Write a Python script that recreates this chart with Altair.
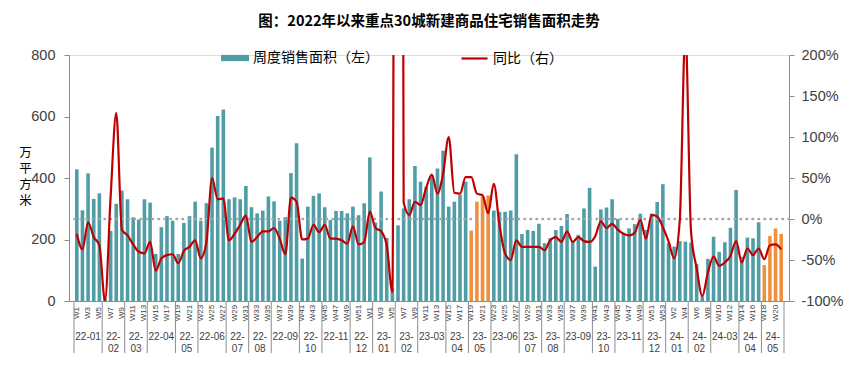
import altair as alt
import pandas as pd

# ---------------- data ----------------
area = [428, 295, 415, 332, 350, 8, 228, 316, 359, 331,
        272, 265, 331, 320, 153, 240, 276, 261, 153, 254,
        276, 323, 261, 318, 499, 602, 623, 331, 337, 331,
        374, 305, 285, 294, 340, 324, 261, 273, 416, 513,
        138, 307, 342, 350, 305, 263, 293, 293, 285, 307,
        279, 318, 467, 255, 356, 205, 42, 246, 301, 331,
        439, 388, 372, 408, 431, 489, 307, 323, 345, 388,
        229, 323, 340, 343, 294, 290, 290, 294, 477, 218,
        231, 228, 251, 188, 204, 231, 244, 283, 193, 215,
        301, 368, 112, 298, 304, 331, 267, 222, 236, 250,
        284, 231, 284, 322, 380, 188, 177, 195, 193, 190,
        120, 15, 137, 209, 160, 191, 238, 361, 144, 206,
        204, 256, 117, 211, 236, 218]

yoy = [-18, -37, -4, -22, -32, -100, 27, 129, -13, -20,
       -31, -40, -42, -28, -63, -48, -44, -43, -54, -39,
       -34, -26, -48, -28, 50, 24, 25, -26, -18, -7,
       4, -28, -22, -15, -15, -11, -24, -43, 26, 21,
       -25, -24, -7, -16, -7, -24, -24, -26, -30, -9,
       -31, -28, 9, -11, -15, -32, -89, 3000, 20, 5,
       21, 17, 38, 54, 31, 55, 100, 32, 31, 51,
       51, 31, 29, 7, 43, -7, -42, -50, -26, -34,
       -34, -34, -34, -38, -26, -22, -28, -15, -28, -22,
       -27, -28, -21, -3, -11, -6, -13, -18, -20, -17,
       -1, -24, 5, 3, -10, -27, -48, -2, 230, -15,
       -60, -94, -65, -46, -57, -53, -45, -27, -53, -36,
       -44, -36, -49, -32, -31, -37]

orange_weeks = [70, 71, 72, 73, 122, 123, 124, 125]

week_labels = ([f"W{k}" for k in range(1, 53)]
               + [f"W{k}" for k in range(1, 54)]
               + [f"W{k}" for k in range(1, 22)])

month_labels = ["22-01", "22-\n02", "22-\n03", "22-04", "22-\n05", "22-06",
                "22-\n07", "22-\n08", "22-09", "22-\n10", "22-11", "22-\n12",
                "23-\n01", "23-\n02", "23-03", "23-\n04", "23-\n05", "23-06",
                "23-\n07", "23-\n08", "23-09", "23-\n10", "23-11", "23-\n12",
                "24-\n01", "24-\n02", "24-03", "24-\n04", "24-\n05"]
month_weeks = [5, 4, 4, 5, 4, 5, 4, 4, 5, 4, 5, 4,
               4, 4, 5, 4, 4, 5, 4, 4, 5, 4, 5, 4,
               4, 4, 5, 4, 4]

BAR_NAME = "周度销售面积（左）"
LINE_NAME = "同比（右）"
TITLE = "图：2022年以来重点30城新建商品住宅销售面积走势"

TEAL = "#519DA6"
ORANGE = "#F0903E"
RED = "#C00000"
GRAY = "#A6A6A6"
AXIS_GRAY = "#8C8C8C"
TXT = "#404040"
LAT = "Liberation Sans"
CJK = "Noto Sans CJK SC"

N = len(area)
W, H = 720, 246

# ---------------- frames ----------------
df = pd.DataFrame({"x": [i + 0.5 for i in range(N)], "area": area,
                   "yoy": yoy, "week": week_labels})
df["orange"] = [i in orange_weeks for i in range(N)]
df_teal = df[~df["orange"]].assign(series=BAR_NAME)
df_orange = df[df["orange"]]
df_line = df.assign(series=LINE_NAME)
df_weeks = df[[i % 2 == 0 for i in range(N)]]

bounds = [0]
for c in month_weeks:
    bounds.append(bounds[-1] + c)
df_sep = pd.DataFrame({"b": bounds})
df_month = pd.DataFrame({
    "c": [(bounds[k] + bounds[k + 1]) / 2 for k in range(len(month_weeks))],
    "label": month_labels})

# ---------------- scales / encodings ----------------
x_scale = alt.Scale(domain=[0, N], nice=False, zero=False)
x_enc = alt.X("x:Q", scale=x_scale,
              axis=alt.Axis(title=None, labels=False, ticks=False, grid=False,
                            domainColor=AXIS_GRAY, domainWidth=1))
y_left_scale = alt.Scale(domain=[0, 800], nice=False)
y_right_scale = alt.Scale(domain=[-100, 200], nice=False)

left_axis = alt.Axis(values=[0, 200, 400, 600, 800], grid=False,
                     title=["万", "平", "方", "米"], titleAngle=0,
                     titleFont=CJK, titleFontSize=12.5, titleFontWeight="normal",
                     titleColor="#000000", titleX=-44, titleY=91,
                     titleAlign="center", titleBaseline="top",
                     titleLineHeight=16,
                     labelFont=LAT, labelFontSize=14.5, labelColor=TXT,
                     labelPadding=9, tickSize=5, tickColor=AXIS_GRAY,
                     domainColor=AXIS_GRAY)
right_axis = alt.Axis(orient="right", values=[-100, -50, 0, 50, 100, 150, 200],
                      labelExpr="datum.value + '%'", grid=False, title=None,
                      labelFont=LAT, labelFontSize=14.5, labelColor=TXT,
                      labelPadding=7, tickSize=5, tickColor=AXIS_GRAY,
                      domainColor=AXIS_GRAY)

bar_legend = alt.Legend(title=None, orient="none", legendX=152, legendY=-11,
                        symbolType="M-1,-0.22L1,-0.22L1,0.22L-1,0.22Z",
                        symbolSize=784, symbolStrokeWidth=0, padding=0,
                        labelFont=CJK, labelFontSize=14, labelColor="#000000",
                        labelOffset=4)
line_legend = alt.Legend(title=None, orient="none", legendX=391, legendY=-11,
                         symbolType="stroke", symbolSize=676,
                         symbolStrokeWidth=2.2, padding=0,
                         labelFont=CJK, labelFontSize=14, labelColor="#000000",
                         labelOffset=4)

teal_bars = alt.Chart(df_teal).mark_bar(width=3.6).encode(
    x=x_enc,
    y=alt.Y("area:Q", scale=y_left_scale, axis=left_axis),
    color=alt.Color("series:N", scale=alt.Scale(domain=[BAR_NAME], range=[TEAL]),
                    legend=bar_legend),
)
orange_bars = alt.Chart(df_orange).mark_bar(width=3.6, color=ORANGE).encode(
    x="x:Q", y=alt.Y("area:Q"))

week_text = alt.Chart(df_weeks).mark_text(
    angle=270, font=LAT, fontSize=8, color=TXT, align="center",
    baseline="middle").encode(
    x="x:Q", y=alt.value(H + 12), text="week:N")

sep_rules = alt.Chart(df_sep).mark_rule(color=AXIS_GRAY, strokeWidth=1).encode(
    x="b:Q", y=alt.value(H), y2=alt.value(H + 52))

month_text = alt.Chart(df_month).mark_text(
    font=LAT, fontSize=10, color=TXT, align="center", baseline="top",
    lineBreak="\n", lineHeight=12).encode(
    x="c:Q", y=alt.value(H + 31), text="label:N")

left_layer = alt.layer(teal_bars, orange_bars, week_text, sep_rules, month_text)

zero_rule = alt.Chart(pd.DataFrame({"z": [0]})).mark_rule(
    color=GRAY, strokeWidth=2.5, strokeDash=[0.5, 5.5], strokeCap="round").encode(
    y=alt.Y("z:Q", scale=y_right_scale, axis=right_axis))

yoy_line = alt.Chart(df_line).mark_line(
    interpolate="monotone", clip=True, strokeWidth=2.2).encode(
    x="x:Q",
    y=alt.Y("yoy:Q", scale=y_right_scale, axis=right_axis),
    stroke=alt.Stroke("series:N", scale=alt.Scale(domain=[LINE_NAME], range=[RED]),
                      legend=line_legend),
)

right_layer = alt.layer(zero_rule, yoy_line)

chart = alt.layer(left_layer, right_layer).resolve_scale(
    y="independent", color="independent", stroke="independent"
).properties(
    width=W, height=H,
    title=alt.TitleParams(TITLE, font=CJK, fontSize=14.5, fontWeight="bold",
                          color="#000000", anchor="middle", frame="group",
                          offset=15),
    padding={"left": 61, "top": 47, "right": 68, "bottom": 57},
    autosize=alt.AutoSizeParams(type="none"),
).configure_view(stroke=None).configure(background="white")

chart.save("out.html", embed_options={"renderer": "svg", "actions": False})
